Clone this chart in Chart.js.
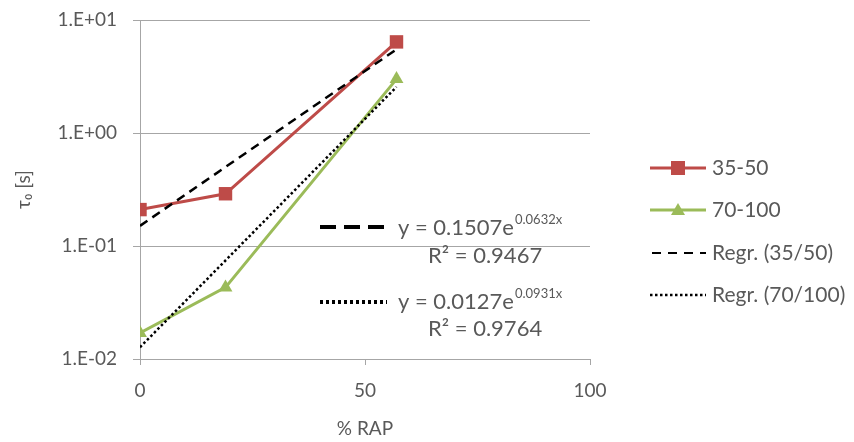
<!DOCTYPE html>
<html><head><meta charset="utf-8">
<script src="https://cdn.jsdelivr.net/npm/chart.js@4"></script>
<style>html,body{margin:0;padding:0;background:#fff;}#wrap{width:854px;height:442px;}</style>
</head><body><div id="wrap"><canvas id="c" width="854" height="442"></canvas></div>
<script>
const xValues = [0, 19, 57];
const series3550 = [0.21, 0.29, 6.4];
const series70100 = [0.017, 0.043, 3.0];
const regrX = [0, 57];
const regr3550 = [0.1507, 5.5];
const regr70100 = [0.0127, 2.56];
const yTickValues = [0.01, 0.1, 1, 10];
const yTickLabels = ['1.E-02', '1.E-01', '1.E+00', '1.E+01'];
const xTickValues = [0, 50, 100];
const legendLabels = ['35-50', '70-100', 'Regr. (35/50)', 'Regr. (70/100)'];
const eq1 = ['y = 0.1507e', '0.0632x', 'R² = 0.9467'];
const eq2 = ['y = 0.0127e', '0.0931x', 'R² = 0.9764'];

const RED = '#BE4B48', GREEN = '#9BBB59', TXT = '#595959', GRID = '#a6a6a6';
const FONT = 'Lato, "Open Sans", sans-serif';
const pts = (xs, ys) => xs.map((x, i) => ({x: x, y: ys[i]}));

const overlay = {
  id: 'overlay',
  afterDraw(chart) {
    const ctx = chart.ctx;
    ctx.save();
    function eq(lines, sx, sy, dash, lw, tx, ty, rx, ry) {
      ctx.strokeStyle = '#000'; ctx.lineWidth = lw; ctx.setLineDash(dash);
      ctx.beginPath(); ctx.moveTo(sx, sy); ctx.lineTo(sx + 67, sy); ctx.stroke();
      ctx.setLineDash([]);
      ctx.fillStyle = TXT; ctx.textBaseline = 'alphabetic'; ctx.textAlign = 'left';
      ctx.font = '22px ' + FONT;
      ctx.fillText(lines[0], tx, ty);
      const w = ctx.measureText(lines[0]).width;
      ctx.font = '13px ' + FONT;
      ctx.fillText(lines[1], tx + w + 1, ty - 11);
      ctx.font = '22px ' + FONT;
      ctx.fillText(lines[2], rx, ry);
    }
    eq(eq1, 320, 227, [16, 8], 4, 398, 235, 428, 263);
    eq(eq2, 320, 302, [3, 3], 4, 398, 309, 428, 336);
    const lx = 650, lw2 = 56, tx = 712;
    const ys = [168, 210, 253, 295];
    ctx.strokeStyle = RED; ctx.lineWidth = 3;
    ctx.beginPath(); ctx.moveTo(lx, ys[0]); ctx.lineTo(lx + lw2, ys[0]); ctx.stroke();
    ctx.fillStyle = RED; ctx.fillRect(lx + lw2/2 - 7, ys[0] - 7, 14, 14);
    ctx.strokeStyle = GREEN;
    ctx.beginPath(); ctx.moveTo(lx, ys[1]); ctx.lineTo(lx + lw2, ys[1]); ctx.stroke();
    ctx.fillStyle = GREEN; ctx.beginPath();
    ctx.moveTo(lx + lw2/2, ys[1] - 7); ctx.lineTo(lx + lw2/2 + 7, ys[1] + 5); ctx.lineTo(lx + lw2/2 - 7, ys[1] + 5); ctx.closePath(); ctx.fill();
    ctx.strokeStyle = '#000'; ctx.lineWidth = 2; ctx.setLineDash([9, 7]);
    ctx.beginPath(); ctx.moveTo(lx + 2, ys[2]); ctx.lineTo(lx + lw2, ys[2]); ctx.stroke();
    ctx.lineWidth = 2.5; ctx.setLineDash([2.5, 2.5]);
    ctx.beginPath(); ctx.moveTo(lx, ys[3]); ctx.lineTo(lx + lw2, ys[3]); ctx.stroke();
    ctx.setLineDash([]);
    ctx.font = '21px ' + FONT; ctx.textBaseline = 'middle'; ctx.fillStyle = TXT;
    legendLabels.forEach((l, i) => ctx.fillText(l, tx, ys[i]));
    ctx.restore();
  }
};

new Chart(document.getElementById('c'), {
  type: 'line',
  data: {
    datasets: [
      {label: 'Regr. (35/50)', data: pts(regrX, regr3550), borderColor: '#000', borderWidth: 2.5, borderDash: [9, 6], pointRadius: 0, order: 1},
      {label: 'Regr. (70/100)', data: pts(regrX, regr70100), borderColor: '#000', borderWidth: 2.5, borderDash: [2.5, 2.5], pointRadius: 0, order: 1},
      {label: '35-50', data: pts(xValues, series3550), borderColor: RED, backgroundColor: RED, borderWidth: 3, pointStyle: 'rect', pointRadius: 9.5, pointBorderWidth: 0, order: 2},
      {label: '70-100', data: pts(xValues, series70100), borderColor: GREEN, backgroundColor: GREEN, borderWidth: 3, pointStyle: 'triangle', pointRadius: 8, pointBorderWidth: 0, order: 2}
    ]
  },
  options: {
    responsive: false, animation: false, events: [],
    layout: {padding: {top: 20, right: 264, bottom: 0, left: 0}},
    plugins: {legend: {display: false}, tooltip: {enabled: false}},
    scales: {
      x: {
        type: 'linear', min: 0, max: 100,
        afterBuildTicks: s => { s.ticks = xTickValues.map(v => ({value: v})); },
        afterFit: s => { s.height = 83; s.paddingLeft = 0; s.paddingRight = 0; },
        grid: {drawOnChartArea: false, drawTicks: true, tickLength: 6, color: GRID},
        border: {display: true, color: GRID},
        ticks: {color: TXT, font: {family: FONT, size: 19}, padding: 14},
        title: {display: true, text: '% RAP', color: TXT, font: {family: FONT, size: 19}, padding: {top: 0, bottom: 2}}
      },
      y: {
        type: 'logarithmic', min: 0.01, max: 10,
        afterBuildTicks: s => { s.ticks = yTickValues.map(v => ({value: v})); },
        afterFit: s => { s.width = 140; s.paddingTop = 0; s.paddingBottom = 0; },
        grid: {color: GRID, lineWidth: 1, drawTicks: true, tickLength: 7},
        border: {display: true, color: GRID},
        ticks: {color: TXT, font: {family: FONT, size: 19}, padding: 16,
          callback: (v) => { const i = yTickValues.indexOf(v); return i >= 0 ? yTickLabels[i] : ''; }},
        title: {display: true, text: 'τ₀ [s]', color: TXT, font: {family: FONT, size: 19}, padding: {top: 12, bottom: 0}}
      }
    }
  },
  plugins: [overlay]
});
</script></body></html>
